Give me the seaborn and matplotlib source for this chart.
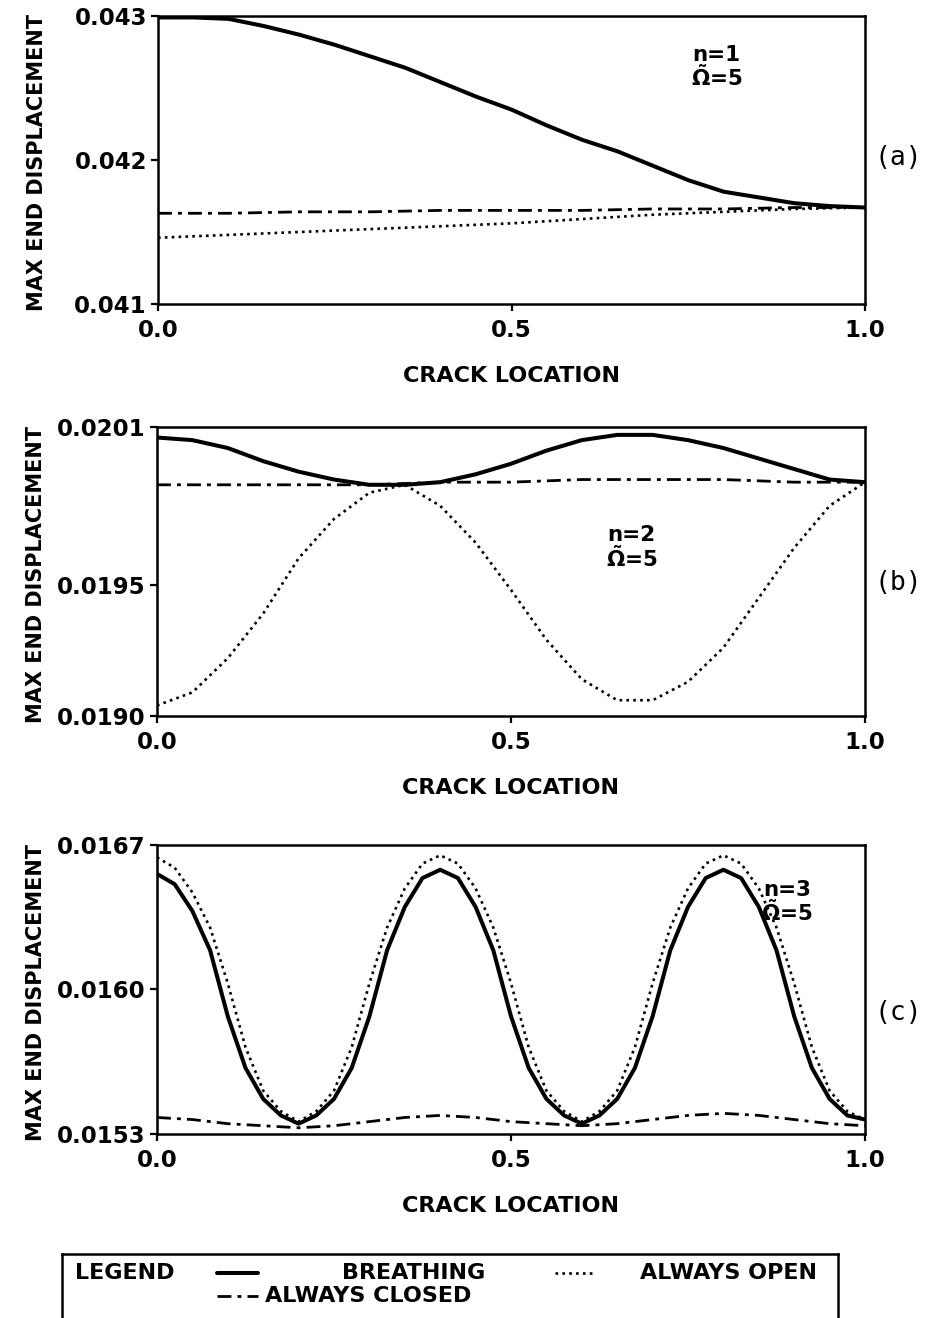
import matplotlib
matplotlib.use("Agg")
import matplotlib.pyplot as plt
import numpy as np
import pandas as pd
import seaborn as sns

# ---------------- data ----------------
# panel (a): n=1
xa_b = [0.00, 0.05, 0.10, 0.15, 0.20, 0.25, 0.30, 0.35, 0.40, 0.45, 0.50,
        0.55, 0.60, 0.65, 0.70, 0.75, 0.80, 0.85, 0.90, 0.95, 1.00]
ya_breathing = [0.04299, 0.04299, 0.04298, 0.04293, 0.04287, 0.04280, 0.04272,
                0.04264, 0.04254, 0.04244, 0.04235, 0.04224, 0.04214, 0.04206,
                0.04196, 0.04186, 0.04178, 0.04174, 0.04170, 0.04168, 0.04167]
xa_s = [0.0, 0.1, 0.2, 0.3, 0.4, 0.5, 0.6, 0.7, 0.8, 0.9, 1.0]
ya_open = [0.04146, 0.04148, 0.04150, 0.04152, 0.04154, 0.04156, 0.04159,
           0.04162, 0.04164, 0.04166, 0.04167]
ya_closed = [0.04163, 0.04163, 0.04164, 0.04164, 0.04165, 0.04165, 0.04165,
             0.04166, 0.04166, 0.04167, 0.04167]

# panel (b): n=2
xb = [0.00, 0.05, 0.10, 0.15, 0.20, 0.25, 0.30, 0.35, 0.40, 0.45, 0.50,
      0.55, 0.60, 0.65, 0.70, 0.75, 0.80, 0.85, 0.90, 0.95, 1.00]
yb_breathing = [0.02006, 0.02005, 0.02002, 0.01997, 0.01993, 0.01990, 0.01988,
                0.01988, 0.01989, 0.01992, 0.01996, 0.02001, 0.02005, 0.02007,
                0.02007, 0.02005, 0.02002, 0.01998, 0.01994, 0.01990, 0.01989]
yb_open = [0.01904, 0.01909, 0.01922, 0.01939, 0.01960, 0.01975, 0.01985,
           0.01988, 0.01980, 0.01966, 0.01948, 0.01929, 0.01914, 0.01906,
           0.01906, 0.01913, 0.01926, 0.01945, 0.01964, 0.01980, 0.01989]
xb_s = [0.0, 0.1, 0.2, 0.3, 0.4, 0.5, 0.6, 0.7, 0.8, 0.9, 1.0]
yb_closed = [0.01988, 0.01988, 0.01988, 0.01988, 0.01989, 0.01989, 0.01990,
             0.01990, 0.01990, 0.01989, 0.01989]

# panel (c): n=3
xc = [0.000, 0.025, 0.050, 0.075, 0.100, 0.125, 0.150, 0.175, 0.200, 0.225,
      0.250, 0.275, 0.300, 0.325, 0.350, 0.375, 0.400, 0.425, 0.450, 0.475,
      0.500, 0.525, 0.550, 0.575, 0.600, 0.625, 0.650, 0.675, 0.700, 0.725,
      0.750, 0.775, 0.800, 0.825, 0.850, 0.875, 0.900, 0.925, 0.950, 0.975,
      1.000]
yc_breathing = [0.01656, 0.01651, 0.01638, 0.01619, 0.01587, 0.01562, 0.01547,
                0.01539, 0.01535, 0.01539, 0.01547, 0.01562, 0.01587, 0.01619,
                0.01640, 0.01654, 0.01658, 0.01654, 0.01640, 0.01619, 0.01587,
                0.01562, 0.01547, 0.01539, 0.01535, 0.01539, 0.01547, 0.01562,
                0.01587, 0.01619, 0.01640, 0.01654, 0.01658, 0.01654, 0.01640,
                0.01619, 0.01587, 0.01562, 0.01547, 0.01539, 0.01537]
yc_open = [0.01664, 0.01659, 0.01647, 0.01630, 0.01603, 0.01572, 0.01551,
           0.01541, 0.01536, 0.01541, 0.01551, 0.01572, 0.01603, 0.01630,
           0.01649, 0.01661, 0.01665, 0.01661, 0.01649, 0.01630, 0.01603,
           0.01572, 0.01551, 0.01541, 0.01536, 0.01541, 0.01551, 0.01572,
           0.01603, 0.01630, 0.01649, 0.01661, 0.01665, 0.01661, 0.01649,
           0.01630, 0.01603, 0.01572, 0.01551, 0.01541, 0.01537]
xc_s = [0.00, 0.05, 0.10, 0.15, 0.20, 0.25, 0.30, 0.35, 0.40, 0.45, 0.50,
        0.55, 0.60, 0.65, 0.70, 0.75, 0.80, 0.85, 0.90, 0.95, 1.00]
yc_closed = [0.01538, 0.01537, 0.01535, 0.01534, 0.01533, 0.01534, 0.01536,
             0.01538, 0.01539, 0.01538, 0.01536, 0.01535, 0.01534, 0.01535,
             0.01537, 0.01539, 0.01540, 0.01539, 0.01537, 0.01535, 0.01534]

x_ticks = [0.0, 0.5, 1.0]
x_ticklabels = ["0.0", "0.5", "1.0"]
panel_yticks = [[0.041, 0.042, 0.043], [0.0190, 0.0195, 0.0201], [0.0153, 0.0160, 0.0167]]
panel_yticklabels = [["0.041", "0.042", "0.043"], ["0.0190", "0.0195", "0.0201"],
                     ["0.0153", "0.0160", "0.0167"]]
panel_tags = ["(a)", "(b)", "(c)"]
panel_n = ["n=1", "n=2", "n=3"]
xlabel = "CRACK LOCATION"
ylabel = "MAX END DISPLACEMENT"
legend_labels = ["BREATHING", "ALWAYS OPEN", "ALWAYS CLOSED"]

# ---------------- style ----------------
sns.set_style("ticks")
plt.rcParams["font.family"] = ["DejaVu Sans"]
plt.rcParams["font.weight"] = "bold"
plt.rcParams["text.color"] = "black"
plt.rcParams["axes.labelcolor"] = "black"
plt.rcParams["xtick.color"] = "black"
plt.rcParams["ytick.color"] = "black"
plt.rcParams["mathtext.fontset"] = "dejavusans"
plt.rcParams["mathtext.default"] = "bf"

LS_SOLID = "-"
LS_OPEN = (0, (1.0, 1.6))
LS_CLOSED = (0, (5.0, 2.2, 1.4, 2.2))
LW_B, LW_O, LW_C = 2.9, 1.9, 2.0

fig = plt.figure(figsize=(9.27, 13.18), dpi=100)
W, H = 927.0, 1318.0


def px_axes(left, top, right, bottom):
    return fig.add_axes([left / W, 1 - bottom / H, (right - left) / W, (bottom - top) / H])


axes = [px_axes(158, 16, 865, 304), px_axes(157, 427, 865, 716), px_axes(157, 845, 865, 1134)]

panels = [
    (xa_b, ya_breathing, xa_s, ya_open, xa_s, ya_closed),
    (xb, yb_breathing, xb, yb_open, xb_s, yb_closed),
    (xc, yc_breathing, xc, yc_open, xc_s, yc_closed),
]

tag_y = [0.507, 0.46, 0.419]
note_pos = [(0.79, 0.90), (0.67, 0.66), (0.89, 0.88)]

for i, (ax, (xbr, ybr, xop, yop, xcl, ycl)) in enumerate(zip(axes, panels)):
    d_b = pd.DataFrame({"x": xbr, "y": ybr})
    d_o = pd.DataFrame({"x": xop, "y": yop})
    d_c = pd.DataFrame({"x": xcl, "y": ycl})
    sns.lineplot(data=d_c, x="x", y="y", ax=ax, color="black", linewidth=LW_C,
                 linestyle=LS_CLOSED, errorbar=None)
    sns.lineplot(data=d_o, x="x", y="y", ax=ax, color="black", linewidth=LW_O,
                 linestyle=LS_OPEN, errorbar=None)
    sns.lineplot(data=d_b, x="x", y="y", ax=ax, color="black", linewidth=LW_B,
                 linestyle=LS_SOLID, errorbar=None)
    yt = panel_yticks[i]
    ax.set_xlim(0, 1)
    ax.set_ylim(yt[0], yt[-1])
    ax.set_xticks(x_ticks)
    ax.set_xticklabels(x_ticklabels)
    ax.set_yticks(yt)
    ax.set_yticklabels(panel_yticklabels[i])
    for s in ax.spines.values():
        s.set_visible(True)
        s.set_linewidth(1.8)
        s.set_color("black")
    ax.tick_params(axis="both", direction="out", length=5, width=1.6, color="black",
                   labelsize=16.5, labelcolor="black")
    ax.tick_params(axis="x", pad=6)
    ax.tick_params(axis="y", pad=3)
    ax.set_xlabel(xlabel, fontsize=16, fontweight="bold", color="black")
    ax.set_ylabel(ylabel, fontsize=15, fontweight="bold", color="black")
    ax.xaxis.set_label_coords(0.5, -0.215)
    ax.yaxis.set_label_coords(-0.157, 0.49)
    ax.text(1.047, tag_y[i], panel_tags[i], transform=ax.transAxes, ha="center",
            va="center", fontsize=19, family="DejaVu Sans Mono", fontweight="normal",
            color="black")
    nx, ny = note_pos[i]
    ax.text(nx, ny, panel_n[i] + "\n" + r"$\tilde{\Omega}$=5", transform=ax.transAxes,
            ha="center", va="top", fontsize=15.5, fontweight="bold", linespacing=1.0,
            color="black")

# ---------------- legend box ----------------
lg = px_axes(62, 1254, 838, 1318)
lg.set_xlim(0, 776)
lg.set_ylim(0, 64)
lg.set_xticks([])
lg.set_yticks([])
for k, s in lg.spines.items():
    s.set_linewidth(1.8)
    s.set_color("black")
lg.spines["bottom"].set_visible(False)
r1, r2 = 45, 22
FS_L = 16
lg.text(13, r1, "LEGEND", ha="left", va="center", fontsize=FS_L, fontweight="bold")
lg.plot([155, 196], [r1, r1], color="black", linewidth=LW_B, linestyle=LS_SOLID)
lg.text(280, r1, legend_labels[0], ha="left", va="center", fontsize=FS_L, fontweight="bold")
lg.plot([493, 531], [r1, r1], color="black", linewidth=LW_O, linestyle=LS_OPEN)
lg.text(578, r1, legend_labels[1], ha="left", va="center", fontsize=FS_L, fontweight="bold")
lg.plot([155, 196], [r2, r2], color="black", linewidth=LW_C, linestyle=LS_CLOSED)
lg.text(203, r2, legend_labels[2], ha="left", va="center", fontsize=FS_L, fontweight="bold")

fig.savefig("out.png", dpi=100)
